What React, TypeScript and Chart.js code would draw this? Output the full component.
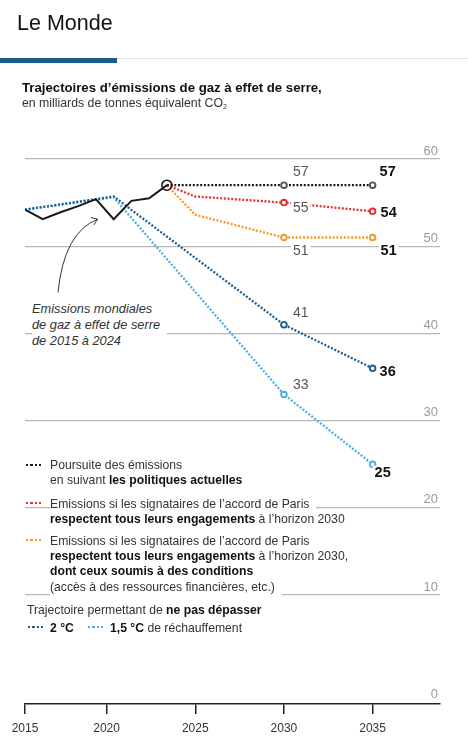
import React, { useEffect, useRef } from 'react';
import { Chart, registerables } from 'chart.js';

Chart.register(...registerables);

const FONT = '"Liberation Sans", Arial, sans-serif';

// ---------- Data ----------
// Historical annual emissions (dated within each year), Gt CO2eq
const HIST_X = [2015.4, 2016.4, 2017.4, 2018.4, 2019.4, 2020.4, 2021.4, 2022.4, 2023.4];
const HIST_VALUES = [54.2, 53.1, 53.9, 54.6, 55.4, 53.1, 55.2, 55.5, 57];

// Projections start from the last historical point
const CURRENT_X = [2023.4, 2030, 2035];
const CURRENT_VALUES = [57, 57, 57];

const PARIS_X = [2023.4, 2025, 2030, 2035];
const PARIS_VALUES = [57, 55.7, 55, 54];

const PARIS_COND_X = [2023.4, 2025, 2030, 2035];
const PARIS_COND_VALUES = [57, 53.6, 51, 51];

const TWO_C_X = [2015.4, 2020.4, 2030, 2035];
const TWO_C_VALUES = [54.2, 55.7, 41, 36];

const ONE_FIVE_C_X = [2015.4, 2020.4, 2030, 2035];
const ONE_FIVE_C_VALUES = [54.2, 55.6, 33, 25];

const X_MIN = 2015.4;
const X_MAX = 2038.8;
const X_TICKS = [2015.4, 2020, 2025, 2030, 2035];
const X_TICK_LABELS = ['2015', '2020', '2025', '2030', '2035'];

const Y_MIN = -2.5;
const Y_MAX = 60;
const Y_TICKS = [10, 20, 30, 40, 50, 60];
const Y_BASE_LABEL = '0';

// Annotation arrow, in data units (year, value)
const ARROW_START = [2017.26, 44.7];
const ARROW_CTRL = [2017.6, 51.6];
const ARROW_END = [2019.5, 53.1];

// ---------- Styles ----------
const C_BLACK = '#1a1a1a';
const C_RED = '#e3312d';
const C_ORANGE = '#f09a27';
const C_DARKBLUE = '#1e5e8c';
const C_LIGHTBLUE = '#4bb0de';

// value-label placement (style only), per dataset key
const LABELS: Record<string, { i: number; dx: number; dy: number; bold: boolean }[]> = {
  current: [
    { i: 1, dx: 9, dy: -13.5, bold: false },
    { i: 2, dx: 7, dy: -13, bold: true },
  ],
  paris: [
    { i: 2, dx: 9, dy: 5.5, bold: false },
    { i: 3, dx: 8, dy: 2, bold: true },
  ],
  parisCond: [
    { i: 2, dx: 9, dy: 13.5, bold: false },
    { i: 3, dx: 8, dy: 13.5, bold: true },
  ],
  twoC: [
    { i: 2, dx: 9, dy: -11.5, bold: false },
    { i: 3, dx: 7, dy: 4, bold: true },
  ],
  oneFiveC: [
    { i: 2, dx: 9, dy: -9, bold: false },
    { i: 3, dx: 2, dy: 8.5, bold: true },
  ],
};

const toPoints = (xs: number[], ys: number[]) => xs.map((x, i) => ({ x, y: ys[i] }));

const dotted = (key: string, xs: number[], ys: number[], color: string, markerColor: string, markerFrom: number, order: number) => ({
  key,
  data: toPoints(xs, ys),
  borderColor: color,
  borderWidth: 2.3,
  borderDash: [2, 1.7],
  borderCapStyle: 'butt',
  pointRadius: xs.map((_, i) => (i >= markerFrom ? 2.8 : 0)),
  pointBackgroundColor: '#fff',
  pointBorderColor: markerColor,
  pointBorderWidth: 1.9,
  tension: 0,
  fill: false,
  order,
});

const overlayPlugin = {
  id: 'overlay',
  afterDatasetsDraw(chart: any) {
    const { ctx, chartArea, scales } = chart;
    ctx.save();
    // y labels
    ctx.font = `13px ${FONT}`;
    ctx.fillStyle = '#9a9a9a';
    ctx.textAlign = 'right';
    ctx.textBaseline = 'middle';
    Y_TICKS.forEach((v) => {
      ctx.fillText(String(v), chartArea.right - 2, scales.y.getPixelForValue(v) - 8);
    });
    ctx.fillText(Y_BASE_LABEL, chartArea.right - 2, chartArea.bottom - 9.5);

    // value labels
    chart.data.datasets.forEach((ds: any, di: number) => {
      const cfg = LABELS[ds.key];
      if (!cfg) return;
      const meta = chart.getDatasetMeta(di);
      cfg.forEach((l) => {
        const el = meta.data[l.i];
        const v = ds.data[l.i].y;
        const txt = String(Math.round(v));
        ctx.font = l.bold ? `bold 14.5px ${FONT}` : `14px ${FONT}`;
        ctx.textAlign = 'left';
        ctx.textBaseline = 'middle';
        const w = ctx.measureText(txt).width;
        const tx = el.x + l.dx;
        const ty = el.y + l.dy;
        ctx.fillStyle = '#fff';
        ctx.fillRect(tx - 2, ty - 7, w + 4, 14);
        ctx.fillStyle = l.bold ? '#111' : '#555';
        ctx.fillText(txt, tx, ty);
      });
    });

    // annotation arrow
    const px = (p: number[]) => [scales.x.getPixelForValue(p[0]), scales.y.getPixelForValue(p[1])];
    const s = px(ARROW_START);
    const c = px(ARROW_CTRL);
    const e = px(ARROW_END);
    ctx.strokeStyle = '#333';
    ctx.lineWidth = 1;
    ctx.beginPath();
    ctx.moveTo(s[0], s[1]);
    ctx.quadraticCurveTo(c[0], c[1], e[0], e[1]);
    ctx.stroke();
    const ang = Math.atan2(e[1] - c[1], e[0] - c[0]);
    const hl = 7;
    ctx.beginPath();
    ctx.moveTo(e[0] - hl * Math.cos(ang - 0.6), e[1] - hl * Math.sin(ang - 0.6));
    ctx.lineTo(e[0], e[1]);
    ctx.lineTo(e[0] - hl * Math.cos(ang + 0.6), e[1] - hl * Math.sin(ang + 0.6));
    ctx.stroke();
    ctx.restore();
  },
};

const Dots = ({ x, cy, color }: { x: number; cy: number; color: string }) => (
  <div
    style={{
      position: 'absolute',
      left: x,
      top: cy - 1.2,
      width: 16,
      height: 2.4,
      background: `repeating-linear-gradient(to right, ${color} 0 2.2px, transparent 2.2px 4.4px)`,
    }}
  />
);

const Line = ({ x, cy, children }: { x: number; cy: number; children: any }) => (
  <div
    style={{
      position: 'absolute',
      left: x,
      top: cy - 7.3,
      height: 16,
      lineHeight: '16px',
      fontSize: 12.2,
      color: '#333',
      whiteSpace: 'nowrap',
    }}
  >
    <span style={{ background: '#fff', paddingRight: 7, paddingBottom: 2, display: 'inline-block' }}>{children}</span>
  </div>
);

const B = ({ children }: { children: any }) => <b style={{ color: '#111' }}>{children}</b>;

export default function App() {
  const ref = useRef<HTMLCanvasElement | null>(null);

  useEffect(() => {
    if (!ref.current) return;
    const chart = new Chart(ref.current, {
      type: 'line',
      data: {
        datasets: [
          {
            key: 'hist',
            data: toPoints(HIST_X, HIST_VALUES),
            borderColor: C_BLACK,
            borderWidth: 2,
            pointRadius: HIST_X.map((_, i) => (i === HIST_X.length - 1 ? 5 : 0)),
            pointBackgroundColor: 'rgba(0,0,0,0)',
            pointBorderColor: '#111',
            pointBorderWidth: 1.5,
            tension: 0,
            fill: false,
            order: 0,
          } as any,
          dotted('current', CURRENT_X, CURRENT_VALUES, C_BLACK, '#555', 1, 1),
          dotted('paris', PARIS_X, PARIS_VALUES, C_RED, C_RED, 2, 2),
          dotted('parisCond', PARIS_COND_X, PARIS_COND_VALUES, C_ORANGE, C_ORANGE, 2, 3),
          dotted('twoC', TWO_C_X, TWO_C_VALUES, C_DARKBLUE, C_DARKBLUE, 2, 4),
          dotted('oneFiveC', ONE_FIVE_C_X, ONE_FIVE_C_VALUES, C_LIGHTBLUE, C_LIGHTBLUE, 2, 5),
        ] as any,
      },
      options: {
        animation: false,
        responsive: false,
        devicePixelRatio: 1,
        layout: { padding: { left: 25, right: 28, top: 159, bottom: 7.5 } },
        plugins: { legend: { display: false }, tooltip: { enabled: false } },
        scales: {
          x: {
            type: 'linear',
            min: X_MIN,
            max: X_MAX,
            afterBuildTicks: (axis: any) => {
              axis.ticks = X_TICKS.map((v) => ({ value: v }));
            },
            ticks: {
              autoSkip: false,
              maxRotation: 0,
              padding: 7,
              color: '#333',
              font: { family: FONT, size: 12 },
              callback: (v: any) => {
                const idx = X_TICKS.findIndex((t) => Math.abs(t - v) < 1e-6);
                return idx >= 0 ? X_TICK_LABELS[idx] : '';
              },
            },
            grid: { drawOnChartArea: false, drawTicks: true, tickLength: 10, color: '#222', lineWidth: 1.5 },
            border: { display: true, color: '#222', width: 1.5 },
          },
          y: {
            type: 'linear',
            min: Y_MIN,
            max: Y_MAX,
            afterBuildTicks: (axis: any) => {
              axis.ticks = Y_TICKS.map((v) => ({ value: v }));
            },
            ticks: { display: false },
            grid: { color: '#b8b8b8', lineWidth: 1.2, drawTicks: false },
            border: { display: false },
          },
        },
      } as any,
      plugins: [overlayPlugin],
    });
    return () => chart.destroy();
  }, []);

  return (
    <div
      style={{
        position: 'fixed',
        left: 0,
        top: 0,
        width: 468,
        height: 750,
        background: '#fff',
        fontFamily: FONT,
        overflow: 'hidden',
      }}
    >
      <canvas ref={ref} width={468} height={750} style={{ position: 'absolute', left: 0, top: 0, width: 468, height: 750 }} />

      {/* header */}
      <div style={{ position: 'absolute', left: 17, top: 10.5, fontSize: 21.5, lineHeight: '24px', color: '#111' }}>Le Monde</div>
      <div style={{ position: 'absolute', left: 117, top: 58, width: 351, height: 1, background: '#e4e4e4' }} />
      <div style={{ position: 'absolute', left: 0, top: 58, width: 117, height: 5, background: '#155f88' }} />
      <div style={{ position: 'absolute', left: 22, top: 79.7, fontSize: 13.2, lineHeight: '16px', fontWeight: 'bold', color: '#111', whiteSpace: 'nowrap' }}>
        Trajectoires d’émissions de gaz à effet de serre,
      </div>
      <div style={{ position: 'absolute', left: 22, top: 95.2, fontSize: 12.3, lineHeight: '16px', color: '#333', whiteSpace: 'nowrap' }}>
        en milliards de tonnes équivalent CO<sub style={{ fontSize: 7, verticalAlign: '-2px' }}>2</sub>
      </div>

      {/* annotation */}
      <div
        style={{
          position: 'absolute',
          left: 32,
          top: 300.5,
          fontSize: 12.8,
          lineHeight: '16.3px',
          fontStyle: 'italic',
          color: '#333',
          background: '#fff',
          paddingRight: 7,
          whiteSpace: 'nowrap',
        }}
      >
        Emissions mondiales
        <br />
        de gaz à effet de serre
        <br />
        de 2015 à 2024
      </div>

      {/* legend */}
      <Dots x={26} cy={465} color={C_BLACK} />
      <Line x={50} cy={464}>Poursuite des émissions</Line>
      <Line x={50} cy={479}>
        en suivant <B>les politiques actuelles</B>
      </Line>

      <Dots x={26} cy={503} color={C_RED} />
      <Line x={50} cy={503}>Emissions si les signataires de l’accord de Paris</Line>
      <Line x={50} cy={518}>
        <B>respectent tous leurs engagements</B> à l’horizon 2030
      </Line>

      <Dots x={26} cy={540} color={C_ORANGE} />
      <Line x={50} cy={540}>Emissions si les signataires de l’accord de Paris</Line>
      <Line x={50} cy={555}>
        <B>respectent tous leurs engagements</B> à l’horizon 2030,
      </Line>
      <Line x={50} cy={570}>
        <B>dont ceux soumis à des conditions</B>
      </Line>
      <Line x={50} cy={586}>(accès à des ressources financières, etc.)</Line>

      <Line x={27} cy={609}>
        Trajectoire permettant de <B>ne pas dépasser</B>
      </Line>
      <Dots x={28} cy={627} color={C_DARKBLUE} />
      <Line x={50} cy={627}>
        <B>2 °C</B>
      </Line>
      <Dots x={88} cy={627} color={C_LIGHTBLUE} />
      <Line x={110} cy={627}>
        <B>1,5 °C</B> de réchauffement
      </Line>
    </div>
  );
}
